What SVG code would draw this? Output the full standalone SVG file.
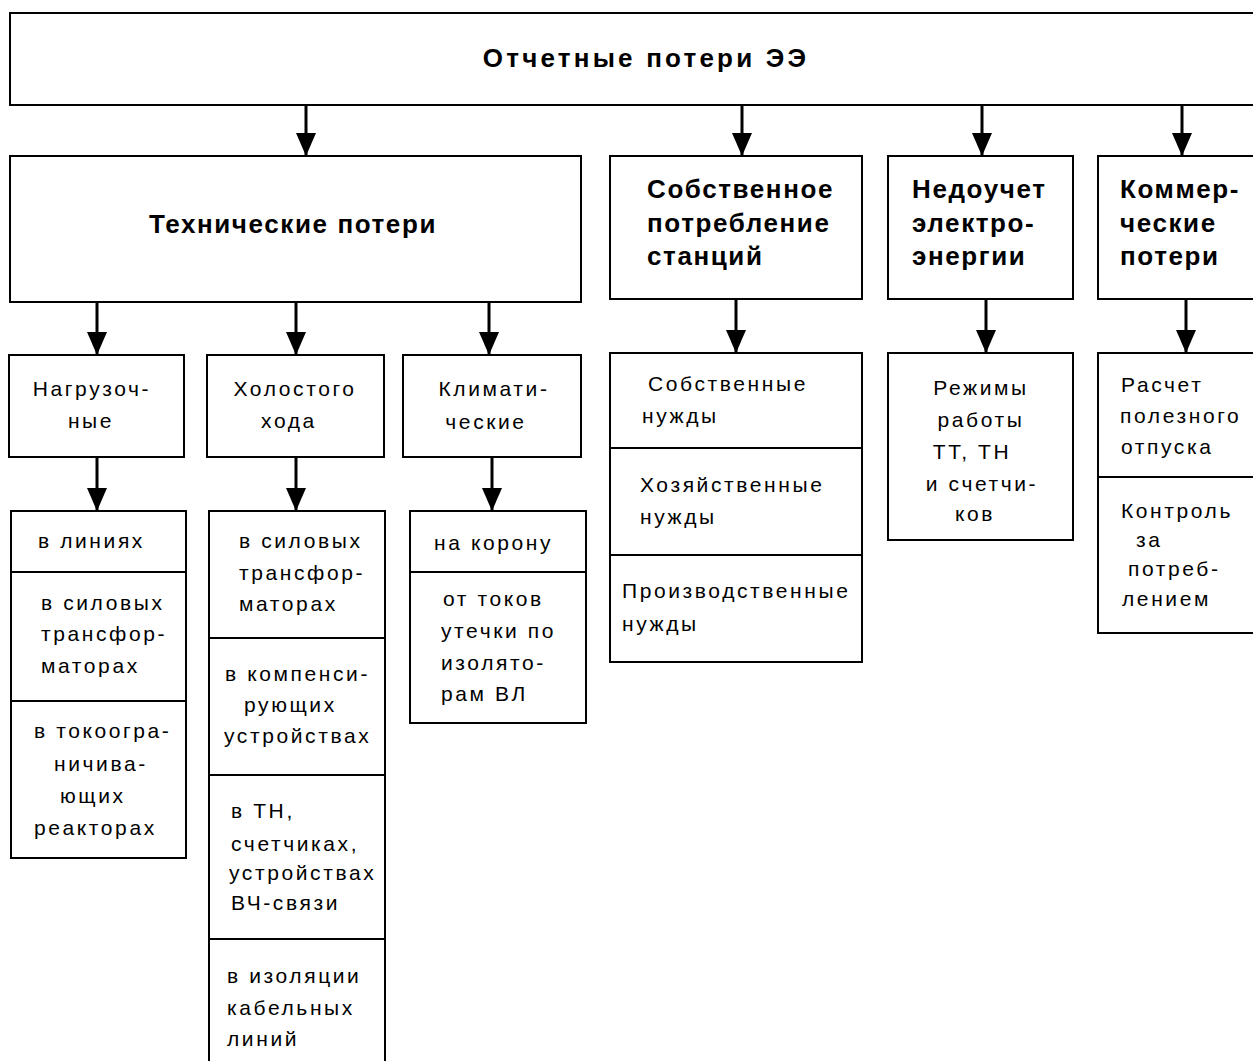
<svg xmlns="http://www.w3.org/2000/svg" width="1253" height="1061" viewBox="0 0 1253 1061">
<style>
.box{fill:#fff;stroke:#000;stroke-width:2}
.div{stroke:#000;stroke-width:2}
.b{font-family:"Liberation Sans",Arial,sans-serif;font-weight:bold;font-size:26px;letter-spacing:1.6px;fill:#000}
.t{letter-spacing:3.2px}
.r{font-family:"Liberation Sans",Arial,sans-serif;font-size:21px;letter-spacing:2.6px;fill:#000}
.m{text-anchor:middle}
.arr{stroke:#000;stroke-width:3;fill:none;marker-end:url(#ah)}
</style>
<defs>
<marker id="ah" markerUnits="userSpaceOnUse" viewBox="0 0 23 20" markerWidth="23" markerHeight="20" refX="23" refY="10" orient="auto">
<path d="M0,0 L23,10 L0,20 Z" fill="#000"/>
</marker>
</defs>
<rect width="1253" height="1061" fill="#fff"/>

<g id="connectors">
<path class="arr" d="M306,105 V156"/>
<path class="arr" d="M742,105 V156"/>
<path class="arr" d="M982,105 V156"/>
<path class="arr" d="M1182,105 V156"/>
<path class="arr" d="M97,302 V355"/>
<path class="arr" d="M296,302 V355"/>
<path class="arr" d="M489,302 V355"/>
<path class="arr" d="M736,299 V353"/>
<path class="arr" d="M986,299 V353"/>
<path class="arr" d="M1186,299 V353"/>
<path class="arr" d="M97,457 V511"/>
<path class="arr" d="M296,457 V511"/>
<path class="arr" d="M492,457 V511"/>
</g>

<g id="n-root">
<rect class="box" x="10" y="13" width="1260" height="92"/>
<text class="b t m" x="646" y="67">Отчетные потери ЭЭ</text>
</g>

<g id="n-tech">
<rect class="box" x="10" y="156" width="571" height="146"/>
<text class="b m" x="293" y="233">Технические потери</text>
</g>

<g id="n-own">
<rect class="box" x="610" y="156" width="252" height="143"/>
<text class="b" x="647" y="198">Собственное</text>
<text class="b" x="647" y="232">потребление</text>
<text class="b" x="647" y="265">станций</text>
</g>

<g id="n-under">
<rect class="box" x="888" y="156" width="185" height="143"/>
<text class="b" x="912" y="198">Недоучет</text>
<text class="b" x="912" y="232">электро-</text>
<text class="b" x="912" y="265">энергии</text>
</g>

<g id="n-comm">
<rect class="box" x="1098" y="156" width="172" height="143"/>
<text class="b" x="1120" y="198">Коммер-</text>
<text class="b" x="1120" y="232">ческие</text>
<text class="b" x="1120" y="265">потери</text>
</g>

<g id="n-load">
<rect class="box" x="9" y="355" width="175" height="102"/>
<text class="r m" x="92" y="396">Нагрузоч-</text>
<text class="r m" x="91" y="428">ные</text>
</g>

<g id="n-idle">
<rect class="box" x="207" y="355" width="177" height="102"/>
<text class="r m" x="295" y="396">Холостого</text>
<text class="r m" x="289" y="428">хода</text>
</g>

<g id="n-clim">
<rect class="box" x="403" y="355" width="178" height="102"/>
<text class="r m" x="494" y="396">Климати-</text>
<text class="r m" x="486" y="429">ческие</text>
</g>

<g id="n-load-items">
<rect class="box" x="11" y="511" width="175" height="347"/>
<line class="div" x1="11" y1="572" x2="186" y2="572"/>
<line class="div" x1="11" y1="701" x2="186" y2="701"/>
<text class="r" x="38" y="548">в линиях</text>
<text class="r" x="41" y="610">в силовых</text>
<text class="r" x="41" y="641">трансфор-</text>
<text class="r" x="41" y="673">маторах</text>
<text class="r" x="34" y="738">в токоогра-</text>
<text class="r" x="54" y="771">ничива-</text>
<text class="r" x="60" y="803">ющих</text>
<text class="r" x="34" y="835">реакторах</text>
</g>

<g id="n-idle-items">
<rect class="box" x="209" y="511" width="176" height="560"/>
<line class="div" x1="209" y1="638" x2="385" y2="638"/>
<line class="div" x1="209" y1="775" x2="385" y2="775"/>
<line class="div" x1="209" y1="939" x2="385" y2="939"/>
<text class="r" x="239" y="548">в силовых</text>
<text class="r" x="239" y="580">трансфор-</text>
<text class="r" x="239" y="611">маторах</text>
<text class="r" x="225" y="681">в компенси-</text>
<text class="r" x="244" y="712">рующих</text>
<text class="r" x="224" y="743">устройствах</text>
<text class="r" x="231" y="818">в ТН,</text>
<text class="r" x="231" y="851">счетчиках,</text>
<text class="r" x="229" y="880">устройствах</text>
<text class="r" x="231" y="910">ВЧ-связи</text>
<text class="r" x="227" y="983">в изоляции</text>
<text class="r" x="227" y="1015">кабельных</text>
<text class="r" x="227" y="1046">линий</text>
</g>

<g id="n-clim-items">
<rect class="box" x="410" y="511" width="176" height="212"/>
<line class="div" x1="410" y1="572" x2="586" y2="572"/>
<text class="r" x="434" y="550">на корону</text>
<text class="r" x="443" y="606">от токов</text>
<text class="r" x="441" y="638">утечки по</text>
<text class="r" x="441" y="670">изолято-</text>
<text class="r" x="441" y="701">рам ВЛ</text>
</g>

<g id="n-own-items">
<rect class="box" x="610" y="353" width="252" height="309"/>
<line class="div" x1="610" y1="448" x2="862" y2="448"/>
<line class="div" x1="610" y1="555" x2="862" y2="555"/>
<text class="r" x="648" y="391">Собственные</text>
<text class="r" x="642" y="423">нужды</text>
<text class="r" x="640" y="492">Хозяйственные</text>
<text class="r" x="640" y="524">нужды</text>
<text class="r" x="622" y="598">Производственные</text>
<text class="r" x="622" y="631">нужды</text>
</g>

<g id="n-under-items">
<rect class="box" x="888" y="353" width="185" height="187"/>
<text class="r m" x="981" y="395">Режимы</text>
<text class="r m" x="981" y="427">работы</text>
<text class="r m" x="972" y="459">ТТ, ТН</text>
<text class="r m" x="982" y="491">и счетчи-</text>
<text class="r m" x="975" y="521">ков</text>
</g>

<g id="n-comm-items">
<rect class="box" x="1098" y="353" width="172" height="280"/>
<line class="div" x1="1098" y1="477" x2="1270" y2="477"/>
<text class="r" x="1121" y="392">Расчет</text>
<text class="r" x="1120" y="423">полезного</text>
<text class="r" x="1121" y="454">отпуска</text>
<text class="r" x="1121" y="518">Контроль</text>
<text class="r" x="1136" y="547">за</text>
<text class="r" x="1128" y="576">потреб-</text>
<text class="r" x="1122" y="606">лением</text>
</g>
</svg>
